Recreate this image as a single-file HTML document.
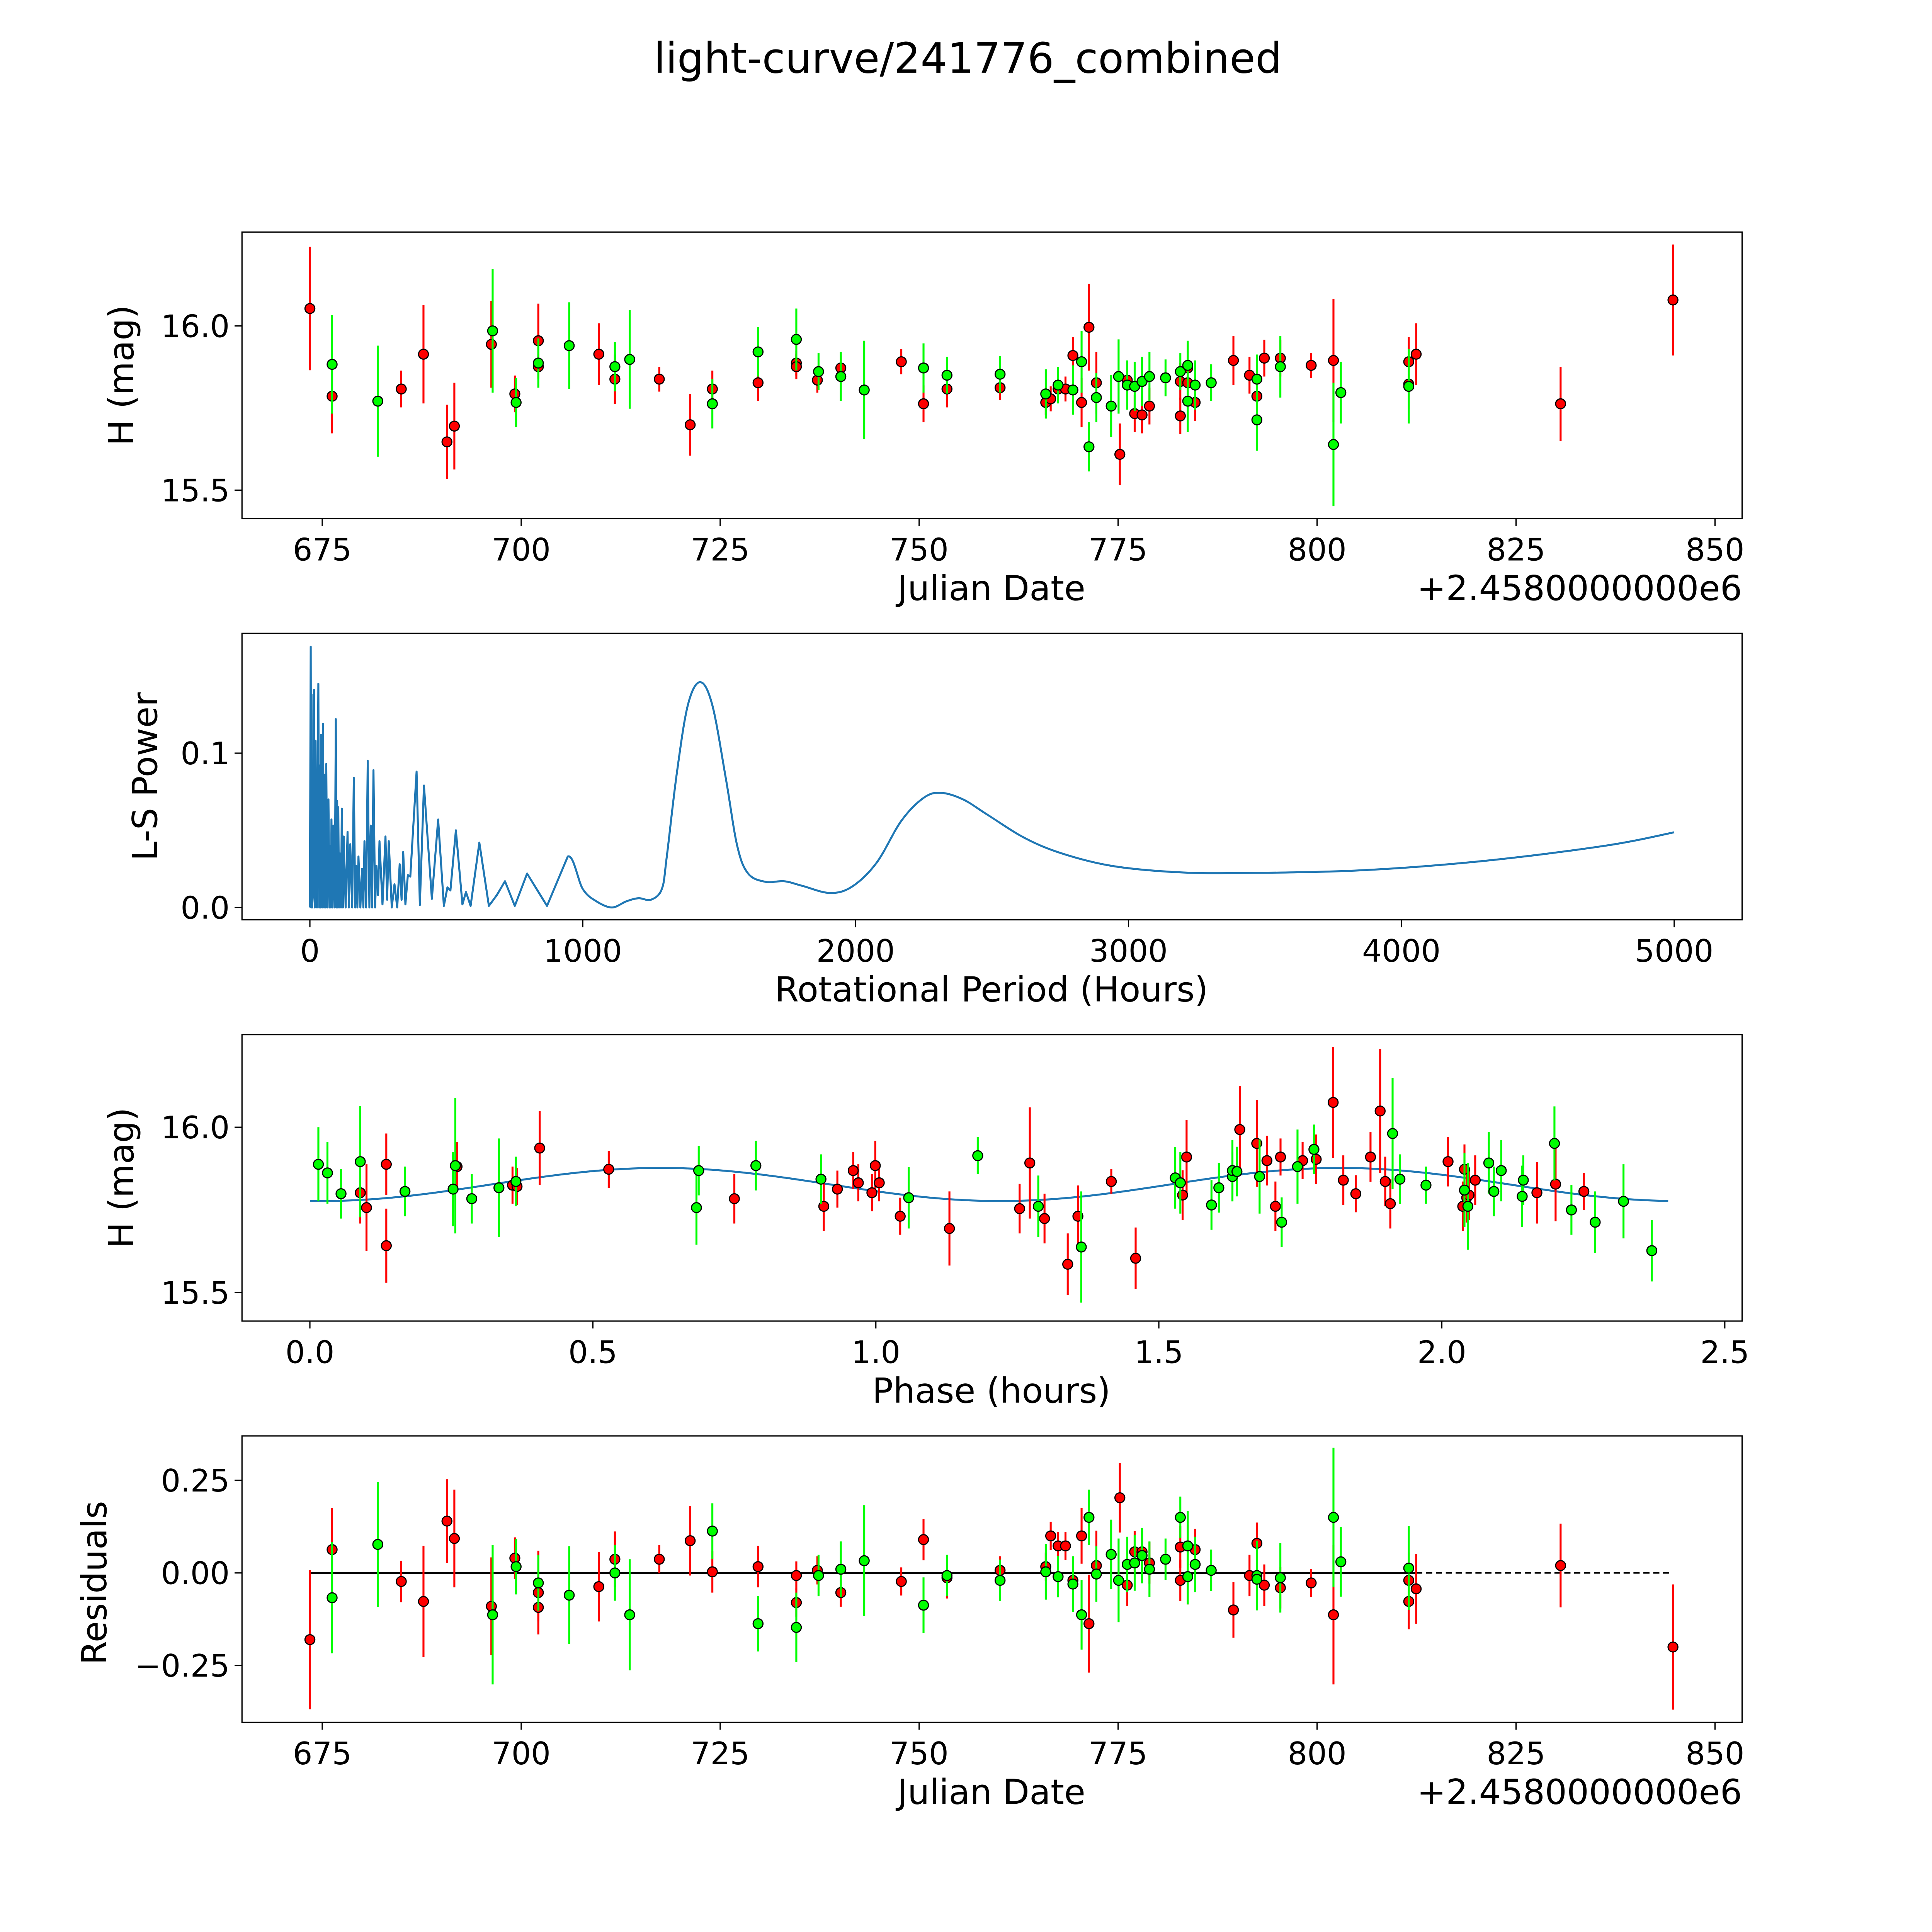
<!DOCTYPE html>
<html><head><meta charset="utf-8"><title>light-curve/241776_combined</title>
<style>html,body{margin:0;padding:0;background:#fff;overflow:hidden;width:5400px;height:5400px}svg{display:block}text{font-family:"DejaVu Sans","Liberation Sans",sans-serif;fill:#000}</style>
</head><body>
<svg id="chart" xmlns="http://www.w3.org/2000/svg" width="5400" height="5400" viewBox="0 0 1690 1690">
<rect x="0" y="0" width="1690" height="1690" fill="#fff"/>
<text x="784" y="59" font-size="34" text-anchor="middle">light-curve/241776_combined</text>
</svg>
<script>
// ---- Panel 1 / 4 data (Julian date offset, magnitude, error, residual) ----
const redDates=[673.45,676.24,684.93,687.72,690.67,691.60,696.25,699.20,702.15,702.15,709.75,711.77,717.35,721.23,724.02,729.76,734.57,734.57,737.21,740.16,747.76,750.55,753.50,760.17,765.91,766.53,767.46,768.39,769.32,770.41,771.34,772.27,775.22,776.15,777.08,778.01,778.94,782.82,782.82,783.75,783.75,784.68,789.49,791.51,792.44,793.37,795.39,799.26,802.06,811.52,811.52,812.45,830.60,844.72];
const redMags=[16.053,15.786,15.808,15.914,15.647,15.695,15.944,15.793,15.955,15.876,15.914,15.838,15.838,15.699,15.808,15.827,15.887,15.876,15.835,15.872,15.891,15.763,15.808,15.812,15.767,15.778,15.808,15.808,15.910,15.767,15.996,15.827,15.609,15.835,15.733,15.729,15.756,15.726,15.831,15.827,15.872,15.767,15.895,15.850,15.786,15.902,15.902,15.880,15.895,15.891,15.823,15.914,15.763,16.079];
const redErrs=[0.188,0.113,0.056,0.150,0.113,0.132,0.132,0.056,0.113,0.038,0.094,0.075,0.038,0.094,0.056,0.056,0.038,0.038,0.038,0.038,0.038,0.056,0.056,0.038,0.038,0.038,0.038,0.038,0.056,0.075,0.132,0.094,0.094,0.056,0.056,0.056,0.056,0.056,0.056,0.056,0.075,0.056,0.075,0.056,0.056,0.056,0.056,0.038,0.188,0.075,0.075,0.094,0.113,0.169];
const redResid=[-0.18,0.063,-0.023,-0.077,0.14,0.093,-0.09,0.04,-0.053,-0.093,-0.037,0.037,0.037,0.087,0.003,0.017,-0.007,-0.08,0.007,-0.053,-0.023,0.09,-0.013,0.007,0.017,0.1,0.073,0.073,-0.02,0.1,-0.137,0.02,0.203,-0.033,0.057,0.057,0.027,-0.02,0.07,0.073,-0.01,0.063,-0.1,-0.007,0.08,-0.033,-0.04,-0.027,-0.113,-0.02,-0.077,-0.043,0.02,-0.2];
const greenDates=[676.24,681.98,696.41,699.36,702.15,706.03,711.77,713.63,724.02,729.76,734.57,737.36,740.16,743.10,750.55,753.50,760.17,765.91,767.46,769.32,770.41,771.34,772.27,774.13,775.06,776.15,777.08,778.01,778.94,780.96,782.82,783.75,783.75,784.68,786.70,792.44,792.44,795.39,802.06,802.99,811.52];
const greenMags=[15.883,15.771,15.985,15.767,15.887,15.940,15.876,15.898,15.763,15.921,15.959,15.861,15.846,15.805,15.872,15.850,15.853,15.793,15.820,15.805,15.891,15.632,15.782,15.756,15.846,15.820,15.816,15.831,15.846,15.842,15.861,15.880,15.771,15.820,15.827,15.714,15.838,15.876,15.639,15.797,15.816];
const greenErrs=[0.150,0.169,0.188,0.075,0.075,0.132,0.075,0.150,0.075,0.075,0.094,0.056,0.075,0.150,0.075,0.056,0.056,0.075,0.056,0.075,0.094,0.075,0.075,0.094,0.113,0.075,0.075,0.075,0.075,0.056,0.056,0.075,0.094,0.075,0.056,0.094,0.075,0.094,0.188,0.094,0.113];
const greenResid=[-0.067,0.077,-0.113,0.017,-0.027,-0.06,0,-0.113,0.113,-0.137,-0.147,-0.007,0.01,0.033,-0.087,-0.007,-0.02,0.003,-0.01,-0.03,-0.113,0.15,-0.003,0.05,-0.02,0.023,0.027,0.047,0.01,0.037,0.15,-0.01,0.073,0.023,0.007,-0.007,-0.017,-0.013,0.15,0.03,0.013];
// ---- Panel 2 periodogram (period hours, power) ----
const lsPeriods=[0,3,5,6,8,12,15,18,21,26,31,34,36,39,41,45,48,52,55,58,60,64,68,72,75,77,79,83,86,91,95,98,100,102,104,107,110,114,117,121,124,131,138,143,148,155,161,166,170,174,178,185,191,196,200,206,212,218,223,228,233,239,244,250,255,266,277,283,289,300,310,320,329,336,342,350,359,368,377,391,403,418,447,470,491,504,515,535,559,572,589,621,656,685,715,751,796,869,945,1000,1050,1107,1160,1205,1250,1290,1308,1344,1385,1430,1475,1525,1566,1606,1670,1738,1805,1905,1986,2077,2167,2249,2312,2394,2484,2620,2756,2937,3163,3389,3842,4294,4747,5000];
const lsPower=[0,0.169,0,0.138,0,0.01,0.141,0,0.108,0,0.145,0,0.092,0,0.112,0,0.119,0,0.086,0,0.093,0,0.070,0,0.040,0,0.057,0,0.053,0,0.122,0,0.069,0,0.065,0,0.035,0,0.064,0,0.046,0,0.049,0,0.041,0,0.084,0,0.027,0,0.033,0,0.025,0,0.043,0,0.095,0,0.053,0,0.089,0,0.027,0.008,0.043,0.002,0.046,0.005,0.043,0,0.015,0,0.028,0.005,0.036,0.002,0.021,0.020,0.047,0.088,0.0016,0.079,0.0056,0.057,0.001,0.013,0.011,0.050,0.002,0.010,0.001,0.042,0.001,0.008,0.017,0.001,0.022,0.001,0.033,0.012,0.004,0.0,0.004,0.006,0.005,0.012,0.033,0.086,0.131,0.146,0.131,0.083,0.040,0.022,0.0166,0.017,0.014,0.0094,0.0134,0.029,0.056,0.071,0.0743,0.070,0.060,0.045,0.035,0.027,0.023,0.0223,0.024,0.030,0.040,0.0487];
// ---- Panel 3 phase-folded data ----
const redPhase=[0.089,0.100,0.135,0.135,0.260,0.358,0.366,0.406,0.528,0.750,0.908,0.932,0.960,0.969,0.993,0.999,1.006,1.043,1.130,1.254,1.272,1.298,1.339,1.357,1.416,1.459,1.549,1.542,1.643,1.673,1.691,1.706,1.715,1.754,1.778,1.808,1.826,1.848,1.874,1.891,1.900,1.909,2.011,2.037,2.040,2.044,2.048,2.059,2.168,2.201,2.251];
const redPhaseMag=[15.802,15.757,15.888,15.642,15.881,15.825,15.821,15.937,15.873,15.784,15.761,15.813,15.869,15.832,15.802,15.884,15.832,15.731,15.694,15.754,15.892,15.724,15.586,15.731,15.836,15.604,15.910,15.795,15.993,15.951,15.899,15.761,15.910,15.899,15.903,16.075,15.840,15.799,15.910,16.049,15.836,15.769,15.896,15.761,15.873,15.787,15.795,15.840,15.802,15.828,15.806];
const redPhaseErr=[0.093,0.131,0.093,0.112,0.075,0.056,0.056,0.112,0.056,0.075,0.075,0.056,0.056,0.056,0.056,0.075,0.056,0.056,0.112,0.075,0.168,0.075,0.093,0.093,0.037,0.093,0.112,0.075,0.131,0.131,0.075,0.075,0.056,0.056,0.075,0.168,0.075,0.056,0.075,0.187,0.075,0.075,0.075,0.075,0.075,0.075,0.075,0.075,0.093,0.112,0.056];
const greenPhase=[0.015,0.031,0.055,0.089,0.168,0.253,0.257,0.286,0.334,0.364,0.687,0.683,0.788,0.903,1.058,1.180,1.287,1.363,1.529,1.538,1.593,1.606,1.630,1.630,1.638,1.678,1.717,1.745,1.774,1.913,1.926,1.972,2.040,2.046,2.083,2.092,2.105,2.142,2.144,2.199,2.229,2.271,2.321,2.371];
const greenPhaseMag=[15.888,15.862,15.799,15.896,15.806,15.813,15.884,15.784,15.817,15.836,15.869,15.757,15.884,15.843,15.787,15.914,15.761,15.638,15.847,15.832,15.765,15.817,15.851,15.869,15.866,15.851,15.713,15.881,15.933,15.981,15.843,15.825,15.810,15.761,15.892,15.806,15.869,15.791,15.840,15.951,15.750,15.713,15.776,15.627];
const greenPhaseErr=[0.112,0.093,0.075,0.168,0.075,0.112,0.205,0.075,0.149,0.075,0.075,0.112,0.075,0.075,0.093,0.056,0.093,0.168,0.093,0.093,0.075,0.075,0.075,0.093,0.075,0.112,0.075,0.112,0.075,0.168,0.075,0.056,0.112,0.131,0.093,0.075,0.093,0.093,0.075,0.112,0.075,0.093,0.112,0.093];
const modelParams=[15.827,0.05,0.62,1.2,2.4]; // mean, amplitude, phase of max, period, max phase
const jdTicks=[675,700,725,750,775,800,825,850];
const magTicks=[16.0,15.5];
const lsXTicks=[0,1000,2000,3000,4000,5000];
const lsYTicks=[0.0,0.1];
const phaseTicks=[0.0,0.5,1.0,1.5,2.0,2.5];
const residTicks=[0.25,0.00,-0.25];

const NS='http://www.w3.org/2000/svg';
const svg=document.getElementById('chart');
function mk(tag,attrs,parent){const e=document.createElementNS(NS,tag);for(const k in attrs)e.setAttribute(k,attrs[k]);(parent||svg).appendChild(e);return e;}
const L=196,R=1411;
const xJD=d=>261+(d-675)*6.446;
const yMag=m=>264+(16-m)*266;
const xLS=p=>251+p*0.221;
const yLS=v=>735-v*1250;
const xPh=p=>251+p*458.4;
const yPh=m=>913+(16-m)*268;
const yRes=r=>1274-r*300;
const panels=[{t:188,b:420,name:'light-curve-panel'},{t:513,b:745,name:'periodogram-panel'},{t:838,b:1070,name:'phase-panel'},{t:1163,b:1395,name:'residuals-panel'}];
const groups=panels.map(p=>{const g=mk('g',{});return g;});
function frame(i){const p=panels[i];const r=mk('rect',{x:L,y:p.t,width:R-L,height:p.b-p.t,fill:'none',stroke:'#000','stroke-width':1});


groups[i].appendChild(r);}
function xticks(i,vals,fx,fmt){const p=panels[i];vals.forEach(v=>{const x=fx(v);const t=mk('line',{x1:x,x2:x,y1:p.b,y2:p.b+6,stroke:'#000','stroke-width':1},groups[i]);


const tx=mk('text',{x:x,y:p.b+34,'font-size':25,'text-anchor':'middle'},groups[i]);tx.textContent=fmt(v);

});}
function yticks(i,vals,fy,fmt){vals.forEach(v=>{const y=fy(v);const t=mk('line',{x1:L-6,x2:L,y1:y,y2:y,stroke:'#000','stroke-width':1},groups[i]);


const tx=mk('text',{x:L-10,y:y+9,'font-size':25,'text-anchor':'end'},groups[i]);tx.textContent=fmt(v);

});}
function label(i,txt,x,y,rot,name){const tx=mk('text',{x:x,y:y,'font-size':28,'text-anchor':'middle'},groups[i]);if(rot)tx.setAttribute('transform','rotate(-90 '+x+' '+y+')');tx.textContent=txt;

}
function points(i,xs,ys,es,fx,fy,col,name,ysc){xs.forEach((d,k)=>{const x=fx(d),y=fy(ys[k]);const h=es[k]*ysc;
const eb=mk('line',{x1:x,x2:x,y1:y-h,y2:y+h,stroke:col,'stroke-width':1.6},groups[i]);

});
xs.forEach((d,k)=>{const c=mk('circle',{cx:fx(d),cy:fy(ys[k]),r:4,fill:col,stroke:'#000','stroke-width':0.9},groups[i]);

});}
const f1=v=>v.toFixed(1), f0=v=>String(v), f2=v=>(v<0?'\u2212':'')+Math.abs(v).toFixed(2);

// Panel 1
frame(0);xticks(0,jdTicks,xJD,f0);yticks(0,magTicks,yMag,f1);
label(0,'Julian Date',803,486,false,'x-axis-title');label(0,'H (mag)',108,304,true,'y-axis-title');
{const o=mk('text',{x:1411,y:486,'font-size':28,'text-anchor':'end'},groups[0]);o.textContent='+2.4580000000e6';

}
points(0,redDates,redMags,redErrs,xJD,yMag,'#ff0000','red-observation',266);
points(0,greenDates,greenMags,greenErrs,xJD,yMag,'#00ff00','green-observation',266);

// Panel 2
frame(1);xticks(1,lsXTicks,xLS,f0);yticks(1,lsYTicks,yLS,f1);
label(1,'Rotational Period (Hours)',803,811,false,'x-axis-title');label(1,'L-S Power',127,629,true,'y-axis-title');
{const pts=lsPeriods.map((p,k)=>[xLS(p),yLS(lsPower[k])]);
let i0=lsPeriods.findIndex(p=>p>=945);
let d='';
for(let k=0;k<=i0;k++){d+=(k?'L':'M')+pts[k][0].toFixed(2)+' '+pts[k][1].toFixed(2);}
for(let k=i0;k<pts.length-1;k++){const p0=pts[Math.max(k-1,0)],p1=pts[k],p2=pts[k+1],p3=pts[Math.min(k+2,pts.length-1)];
const c1=[p1[0]+(p2[0]-p0[0])/6,p1[1]+(p2[1]-p0[1])/6],c2=[p2[0]-(p3[0]-p1[0])/6,p2[1]-(p3[1]-p1[1])/6];
d+='C'+c1[0].toFixed(2)+' '+c1[1].toFixed(2)+' '+c2[0].toFixed(2)+' '+c2[1].toFixed(2)+' '+p2[0].toFixed(2)+' '+p2[1].toFixed(2);}
const pl=mk('path',{d:d,fill:'none',stroke:'#1f77b4','stroke-width':1.6,'stroke-linejoin':'round'},groups[1]);

}

// Panel 3
frame(2);xticks(2,phaseTicks,xPh,f1);yticks(2,magTicks,yPh,f1);
label(2,'Phase (hours)',803,1136,false,'x-axis-title');label(2,'H (mag)',108,954,true,'y-axis-title');
{let d='';const [mu,amp,p0,per,pmax]=modelParams;for(let k=0;k<=240;k++){const p=pmax*k/240;const m=mu+amp*Math.cos(2*Math.PI*(p-p0)/per);d+=(k?'L':'M')+xPh(p).toFixed(2)+' '+yPh(m).toFixed(2);}
const ml=mk('path',{d:d,fill:'none',stroke:'#1f77b4','stroke-width':1.6},groups[2]);

}
points(2,redPhase,redPhaseMag,redPhaseErr,xPh,yPh,'#ff0000','red-phase',268);
points(2,greenPhase,greenPhaseMag,greenPhaseErr,xPh,yPh,'#00ff00','green-phase',268);

// Panel 4
frame(3);xticks(3,jdTicks,xJD,f0);yticks(3,residTicks,yRes,f2);
label(3,'Julian Date',803,1461,false,'x-axis-title');label(3,'Residuals',86,1282,true,'y-axis-title');
{const o=mk('text',{x:1411,y:1461,'font-size':28,'text-anchor':'end'},groups[3]);o.textContent='+2.4580000000e6';


const dl=mk('line',{x1:xJD(redDates[0]),x2:xJD(redDates[redDates.length-1]),y1:yRes(0),y2:yRes(0),stroke:'#000','stroke-width':1.2,'stroke-dasharray':'5 3'},groups[3]);


const sl=mk('line',{x1:xJD(redDates[0]),x2:xJD(812.45),y1:yRes(0),y2:yRes(0),stroke:'#000','stroke-width':1.6},groups[3]);

}
points(3,redDates,redResid,redErrs,xJD,yRes,'#ff0000','red-residual',300);
points(3,greenDates,greenResid,greenErrs,xJD,yRes,'#00ff00','green-residual',300);
</script>
</body></html>
